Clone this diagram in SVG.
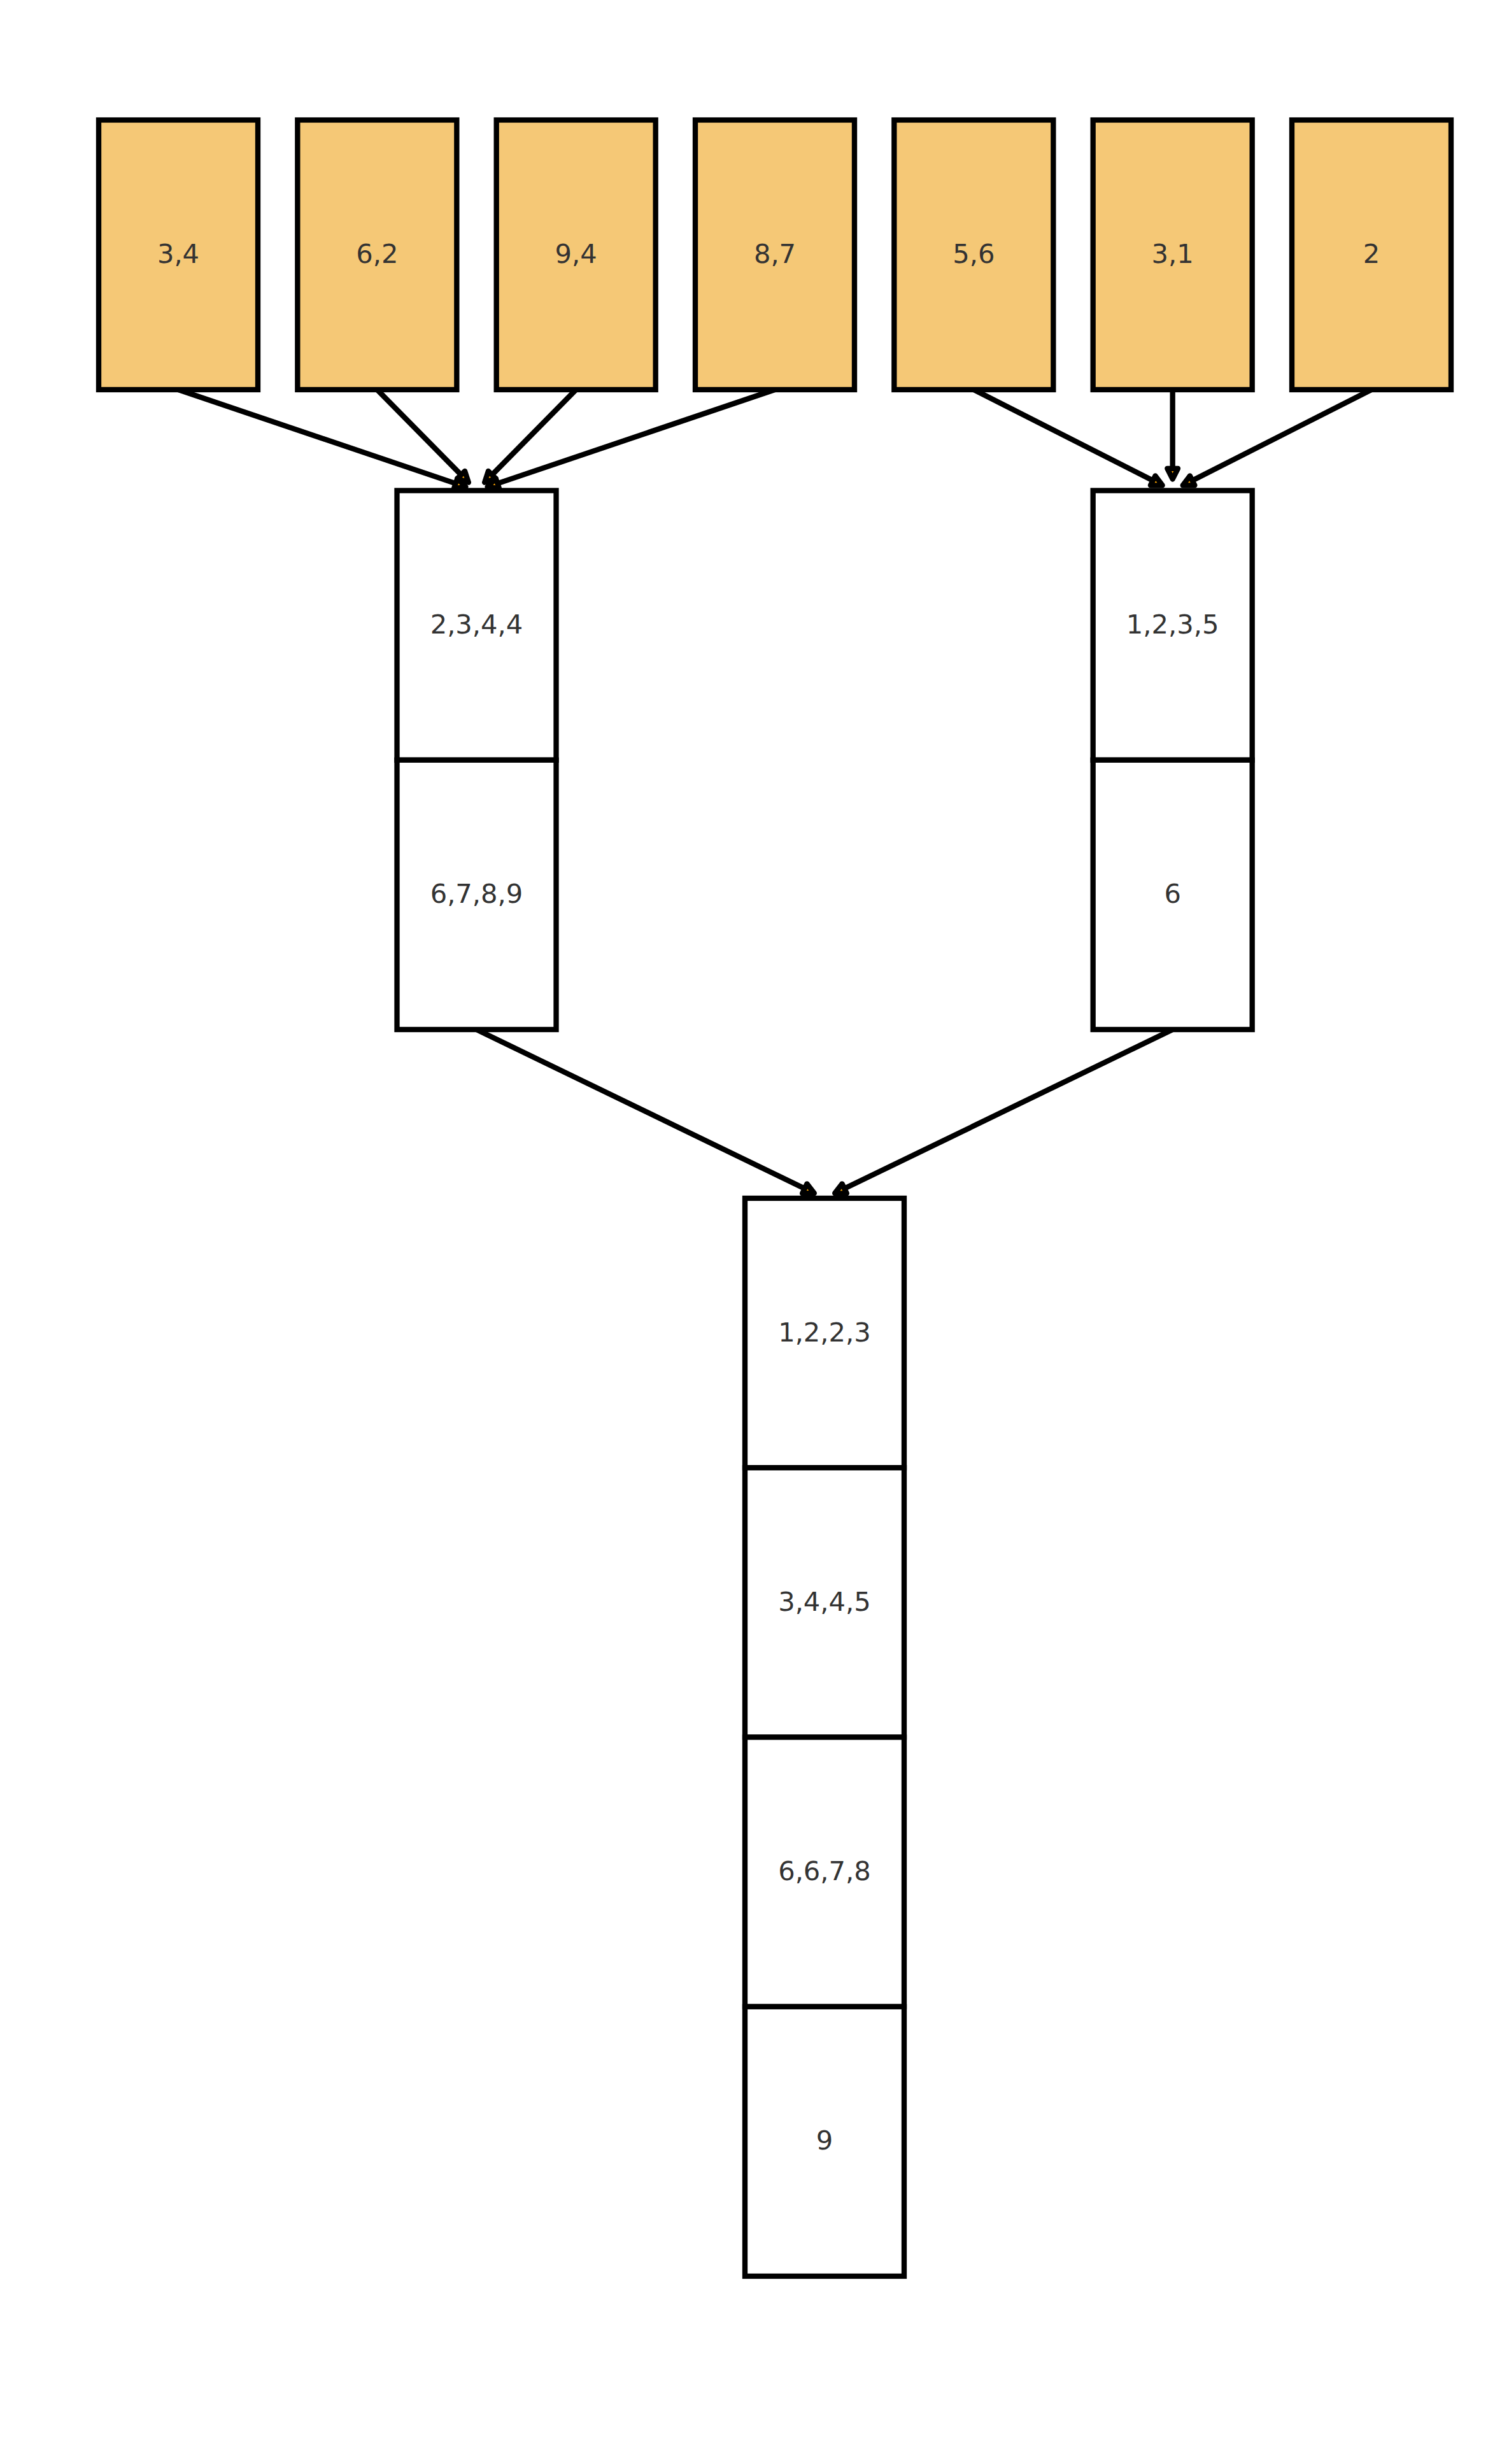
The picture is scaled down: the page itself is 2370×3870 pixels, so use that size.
<svg xmlns="http://www.w3.org/2000/svg" width="2370" height="3870" viewBox="0 0 2370 3870">
<style>
.leaf{fill:#F5C876;stroke:#000;stroke-width:8.33}
.cell{fill:#fff;stroke:#000;stroke-width:8.33}
.lbl{font-family:"DejaVu Sans","Liberation Sans",sans-serif;font-size:41.67px;fill:#333333;text-anchor:middle}
.arr{fill:none;stroke:#000;stroke-width:8.33;marker-end:url(#head)}
</style>
<defs>
<marker id="head" markerUnits="userSpaceOnUse" viewBox="-10 -20 40 40" markerWidth="40" markerHeight="40" refX="0" refY="0" orient="auto" overflow="visible">
<path d="M16.7,0 L0,-8.33 L0,8.33 Z" fill="#FFA500" stroke="#000" stroke-width="8.33" stroke-linejoin="round"/>
</marker>
</defs>
<rect width="2370" height="3870" fill="#fff"/>
<g id="connectors">
<path class="arr" d="M280,612 L715.63,759.38"/>
<path class="arr" d="M592.33,612 L724.15,745.78"/>
<path class="arr" d="M904.67,612 L772.85,745.78"/>
<path class="arr" d="M1217,612 L781.37,759.38"/>
<path class="arr" d="M1529.33,612 L1810.73,754.79"/>
<path class="arr" d="M1841.67,612 L1841.67,735.8"/>
<path class="arr" d="M2154,612 L1872.61,754.79"/>
<path class="arr" d="M748.5,1617 L1263.77,1866.86"/>
<path class="arr" d="M1841.67,1617 L1326.23,1866.86"/>
</g>
<g id="leaf-34"><rect class="leaf" x="155" y="188.5" width="250" height="423.5"/><text class="lbl" x="280" y="413.25">3,4</text></g>
<g id="leaf-62"><rect class="leaf" x="467.33" y="188.5" width="250" height="423.5"/><text class="lbl" x="592.33" y="413.25">6,2</text></g>
<g id="leaf-94"><rect class="leaf" x="779.67" y="188.5" width="250" height="423.5"/><text class="lbl" x="904.67" y="413.25">9,4</text></g>
<g id="leaf-87"><rect class="leaf" x="1092" y="188.5" width="250" height="423.5"/><text class="lbl" x="1217" y="413.25">8,7</text></g>
<g id="leaf-56"><rect class="leaf" x="1404.33" y="188.5" width="250" height="423.5"/><text class="lbl" x="1529.33" y="413.25">5,6</text></g>
<g id="leaf-31"><rect class="leaf" x="1716.67" y="188.5" width="250" height="423.5"/><text class="lbl" x="1841.67" y="413.25">3,1</text></g>
<g id="leaf-2"><rect class="leaf" x="2029" y="188.5" width="250" height="423.5"/><text class="lbl" x="2154" y="413.25">2</text></g>
<g id="merge-left">
<rect class="cell" x="623.5" y="770.5" width="250" height="423.25"/>
<rect class="cell" x="623.5" y="1193.75" width="250" height="423.25"/>
<text class="lbl" x="748.5" y="995.1">2,3,4,4</text>
<text class="lbl" x="748.5" y="1418.4">6,7,8,9</text>
</g>
<g id="merge-right">
<rect class="cell" x="1716.67" y="770.5" width="250" height="423.25"/>
<rect class="cell" x="1716.67" y="1193.75" width="250" height="423.25"/>
<text class="lbl" x="1841.67" y="995.1">1,2,3,5</text>
<text class="lbl" x="1841.67" y="1418.4">6</text>
</g>
<g id="merge-final">
<rect class="cell" x="1170" y="1882" width="250" height="423.25"/>
<rect class="cell" x="1170" y="2305.25" width="250" height="423.25"/>
<rect class="cell" x="1170" y="2728.5" width="250" height="423.25"/>
<rect class="cell" x="1170" y="3151.75" width="250" height="423.25"/>
<text class="lbl" x="1295" y="2106.6">1,2,2,3</text>
<text class="lbl" x="1295" y="2529.9">3,4,4,5</text>
<text class="lbl" x="1295" y="2953.1">6,6,7,8</text>
<text class="lbl" x="1295" y="3376.4">9</text>
</g>
</svg>
